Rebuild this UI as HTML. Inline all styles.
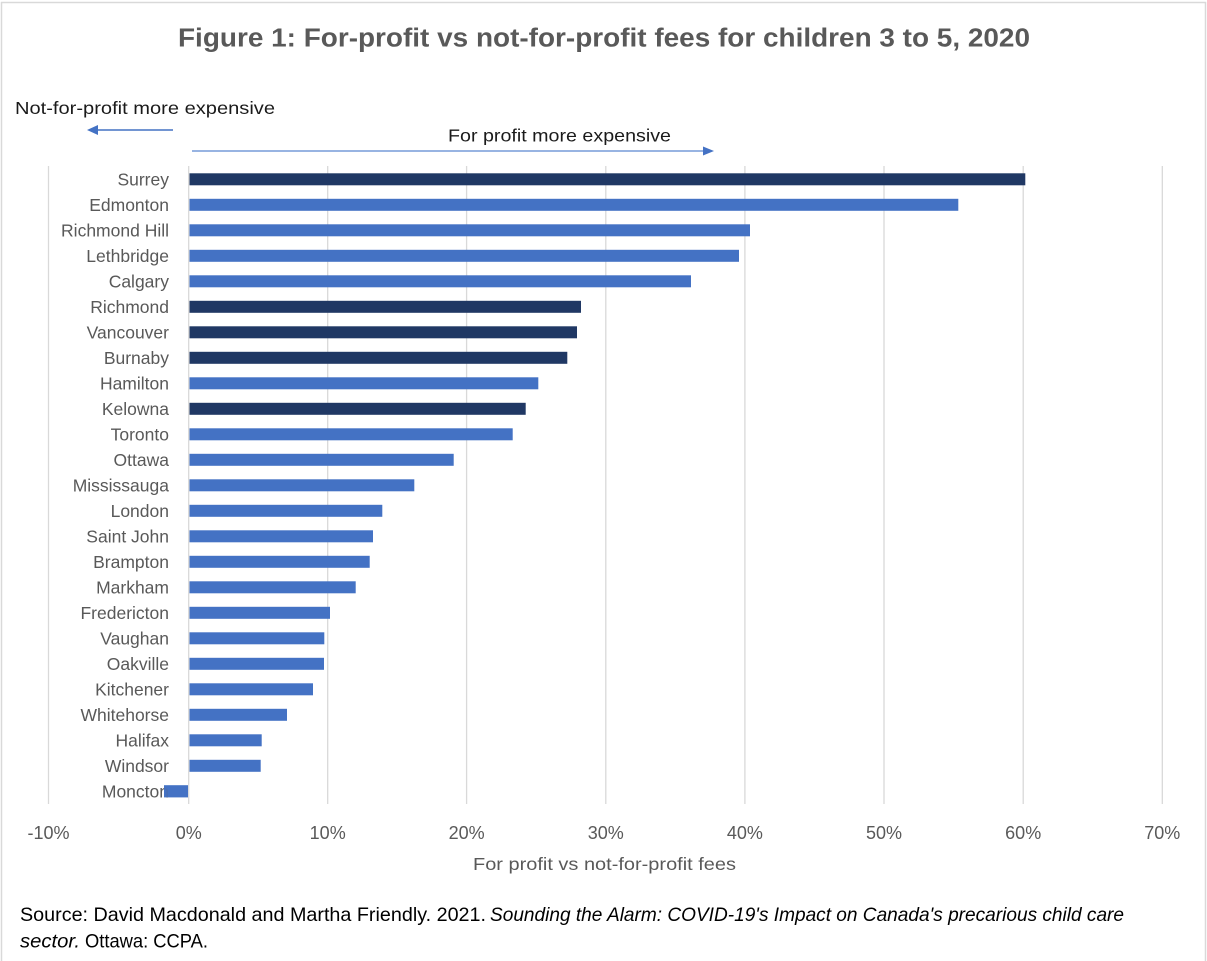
<!DOCTYPE html>
<html>
<head>
<meta charset="utf-8">
<style>
  html, body { margin: 0; padding: 0; background: #ffffff; }
  svg { display: block; }
  text { font-family: "Liberation Sans", Arial, sans-serif; }
</style>
</head>
<body>
<svg width="1207" height="961" viewBox="0 0 1207 961" xmlns="http://www.w3.org/2000/svg">
  <rect x="0" y="0" width="1207" height="961" fill="#ffffff"/>
  <!-- outer border -->
  <line x1="1" y1="2.5" x2="1206" y2="2.5" stroke="#d9d9d9" stroke-width="1.5"/>
  <line x1="1.5" y1="2" x2="1.5" y2="961" stroke="#d9d9d9" stroke-width="1.5"/>
  <line x1="1205.5" y1="2" x2="1205.5" y2="961" stroke="#d9d9d9" stroke-width="1.5"/>

  <!-- title -->
  <text x="178" y="46.7" font-size="25.5" font-weight="bold" fill="#595959" textLength="852" lengthAdjust="spacingAndGlyphs">Figure 1: For-profit vs not-for-profit fees for children 3 to 5, 2020</text>

  <!-- annotations -->
  <text x="15" y="114" font-size="17.6" fill="#1a1a1a" textLength="260" lengthAdjust="spacingAndGlyphs">Not-for-profit more expensive</text>
  <line x1="173" y1="130" x2="95" y2="130" stroke="#4472C4" stroke-width="1.5"/>
  <polygon points="87,130 98,125 98,135" fill="#4472C4"/>

  <text x="448" y="141.5" font-size="17.6" fill="#1a1a1a" textLength="223" lengthAdjust="spacingAndGlyphs">For profit more expensive</text>
  <line x1="192" y1="151" x2="705" y2="151" stroke="#5b87d0" stroke-width="1.2"/>
  <polygon points="714,151 703,146.5 703,155.5" fill="#4472C4"/>

  <!-- gridlines -->
  <g stroke="#d9d9d9" stroke-width="1.3">
    <line x1="48.5" y1="166" x2="48.5" y2="804"/>
    <line x1="188.7" y1="166" x2="188.7" y2="804"/>
    <line x1="327.7" y1="166" x2="327.7" y2="804"/>
    <line x1="466.6" y1="166" x2="466.6" y2="804"/>
    <line x1="605.8" y1="166" x2="605.8" y2="804"/>
    <line x1="744.9" y1="166" x2="744.9" y2="804"/>
    <line x1="884" y1="166" x2="884" y2="804"/>
    <line x1="1023.2" y1="166" x2="1023.2" y2="804"/>
    <line x1="1162.3" y1="166" x2="1162.3" y2="804"/>
  </g>

  <!-- bars -->
  <g>
    <rect x="189.5" y="173.3" width="835.8" height="12" fill="#203864"/>
    <rect x="189.5" y="198.8" width="768.8" height="12" fill="#4472C4"/>
    <rect x="189.5" y="224.3" width="560.5" height="12" fill="#4472C4"/>
    <rect x="189.5" y="249.8" width="549.5" height="12" fill="#4472C4"/>
    <rect x="189.5" y="275.3" width="501.5" height="12" fill="#4472C4"/>
    <rect x="189.5" y="300.8" width="391.5" height="12" fill="#203864"/>
    <rect x="189.5" y="326.3" width="387.5" height="12" fill="#203864"/>
    <rect x="189.5" y="351.8" width="377.8" height="12" fill="#203864"/>
    <rect x="189.5" y="377.3" width="348.8" height="12" fill="#4472C4"/>
    <rect x="189.5" y="402.8" width="336.2" height="12" fill="#203864"/>
    <rect x="189.5" y="428.3" width="323.2" height="12" fill="#4472C4"/>
    <rect x="189.5" y="453.8" width="264.2" height="12" fill="#4472C4"/>
    <rect x="189.5" y="479.3" width="224.8" height="12" fill="#4472C4"/>
    <rect x="189.5" y="504.8" width="192.8" height="12" fill="#4472C4"/>
    <rect x="189.5" y="530.3" width="183.5" height="12" fill="#4472C4"/>
    <rect x="189.5" y="555.8" width="180.2" height="12" fill="#4472C4"/>
    <rect x="189.5" y="581.3" width="166.2" height="12" fill="#4472C4"/>
    <rect x="189.5" y="606.8" width="140.5" height="12" fill="#4472C4"/>
    <rect x="189.5" y="632.3" width="134.8" height="12" fill="#4472C4"/>
    <rect x="189.5" y="657.8" width="134.5" height="12" fill="#4472C4"/>
    <rect x="189.5" y="683.3" width="123.5" height="12" fill="#4472C4"/>
    <rect x="189.5" y="708.8" width="97.5" height="12" fill="#4472C4"/>
    <rect x="189.5" y="734.3" width="72.2" height="12" fill="#4472C4"/>
    <rect x="189.5" y="759.8" width="71.2" height="12" fill="#4472C4"/>
    <rect x="164" y="785.3" width="24" height="12" fill="#4472C4"/>
  </g>

  <!-- category labels -->
  <g font-size="17.5" fill="#595959" text-anchor="end">
    <text x="169" y="185.3">Surrey</text>
    <text x="169" y="210.8">Edmonton</text>
    <text x="169" y="236.3">Richmond Hill</text>
    <text x="169" y="261.8">Lethbridge</text>
    <text x="169" y="287.3">Calgary</text>
    <text x="169" y="312.8">Richmond</text>
    <text x="169" y="338.3">Vancouver</text>
    <text x="169" y="363.8">Burnaby</text>
    <text x="169" y="389.3">Hamilton</text>
    <text x="169" y="414.8">Kelowna</text>
    <text x="169" y="440.3">Toronto</text>
    <text x="169" y="465.8">Ottawa</text>
    <text x="169" y="491.3">Mississauga</text>
    <text x="169" y="516.8">London</text>
    <text x="169" y="542.3">Saint John</text>
    <text x="169" y="567.8">Brampton</text>
    <text x="169" y="593.3">Markham</text>
    <text x="169" y="618.8">Fredericton</text>
    <text x="169" y="644.3">Vaughan</text>
    <text x="169" y="669.8">Oakville</text>
    <text x="169" y="695.3">Kitchener</text>
    <text x="169" y="720.8">Whitehorse</text>
    <text x="169" y="746.3">Halifax</text>
    <text x="169" y="771.8">Windsor</text>
    <text x="169" y="797.3">Moncton</text>
  </g>
  <!-- Moncton bar overlaps label end -->
  <rect x="164" y="785.3" width="24" height="12" fill="#4472C4" fill-opacity="0.85"/>

  <!-- tick labels -->
  <g font-size="18" fill="#595959" text-anchor="middle">
    <text x="48.5" y="839">-10%</text>
    <text x="188.7" y="839">0%</text>
    <text x="327.7" y="839">10%</text>
    <text x="466.6" y="839">20%</text>
    <text x="605.8" y="839">30%</text>
    <text x="744.9" y="839">40%</text>
    <text x="884" y="839">50%</text>
    <text x="1023.2" y="839">60%</text>
    <text x="1162.3" y="839">70%</text>
  </g>

  <!-- axis title -->
  <text x="473" y="870" font-size="17.6" fill="#595959" textLength="263" lengthAdjust="spacingAndGlyphs">For profit vs not-for-profit fees</text>

  <!-- source -->
  <text x="20" y="921" font-size="19.5" fill="#000000" textLength="466" lengthAdjust="spacingAndGlyphs">Source: David Macdonald and Martha Friendly. 2021.</text>
  <text x="490" y="921" font-size="19.5" font-style="italic" fill="#000000" textLength="634" lengthAdjust="spacingAndGlyphs">Sounding the Alarm: COVID-19's Impact on Canada's precarious child care</text>
  <text x="20" y="947.5" font-size="19.5" font-style="italic" fill="#000000" textLength="60" lengthAdjust="spacingAndGlyphs">sector.</text>
  <text x="85" y="947.5" font-size="19.5" fill="#000000" textLength="123" lengthAdjust="spacingAndGlyphs">Ottawa: CCPA.</text>
</svg>
</body>
</html>
